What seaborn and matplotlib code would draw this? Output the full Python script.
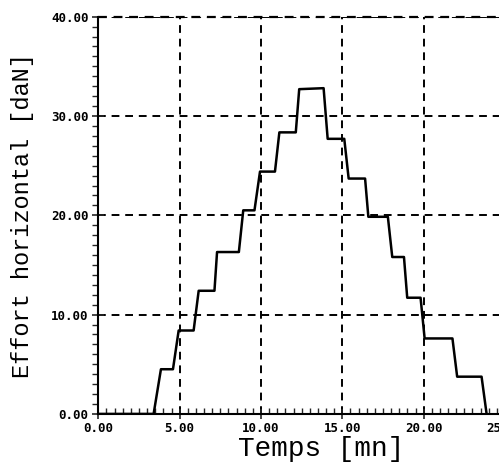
import matplotlib
matplotlib.use("Agg")
import matplotlib.pyplot as plt
import seaborn as sns
import pandas as pd
from matplotlib.ticker import MultipleLocator, FormatStrFormatter

# Data (time in minutes, horizontal force in daN)
temps = [0, 3.4, 3.85, 4.59, 4.94, 5.86, 6.17, 7.14, 7.3, 8.64, 8.91, 9.6, 9.94,
         10.86, 11.13, 12.14, 12.35, 13.85, 14.1, 15.12, 15.39, 16.4, 16.6, 17.8,
         18.07, 18.79, 18.99, 19.81, 20.06, 21.77, 22.06, 23.56, 23.87]
effort = [0, 0, 4.5, 4.5, 8.4, 8.4, 12.4, 12.4, 16.3, 16.3, 20.5, 20.5, 24.4,
          24.4, 28.35, 28.35, 32.7, 32.8, 27.7, 27.7, 23.7, 23.7, 19.85, 19.85,
          15.8, 15.8, 11.7, 11.7, 7.6, 7.6, 3.75, 3.75, 0]

xlabel = "Temps [mn]"
ylabel = "Effort horizontal [daN]"

df = pd.DataFrame({"t": temps, "f": effort})

sns.set_theme(style="white")
fig = plt.figure(figsize=(4.99, 4.63), dpi=100)
ax = fig.add_axes([0.197, 0.106, 1.012 - 0.197, 0.858])

sns.lineplot(data=df, x="t", y="f", sort=False, color="black", linewidth=1.8,
             ax=ax, zorder=3)

ax.set_xlim(0, 25)
ax.set_ylim(0, 40)
ax.xaxis.set_major_locator(MultipleLocator(5))
ax.xaxis.set_minor_locator(MultipleLocator(0.5))
ax.yaxis.set_major_locator(MultipleLocator(10))
ax.yaxis.set_minor_locator(MultipleLocator(1))
ax.xaxis.set_major_formatter(FormatStrFormatter("%.2f"))
ax.yaxis.set_major_formatter(FormatStrFormatter("%.2f"))

for s in ["top", "right"]:
    ax.spines[s].set_visible(False)
for s in ["left", "bottom"]:
    ax.spines[s].set_color("black")
    ax.spines[s].set_linewidth(1.5)

dash = (0, (4, 3))
ax.grid(True, which="major", color="black", linestyle=dash, linewidth=1.4)
ax.axhline(40, color="black", linestyle=dash, linewidth=1.6, clip_on=False)

ax.tick_params(axis="x", which="major", direction="inout", length=7, width=1.2,
               pad=2, bottom=True)
ax.tick_params(axis="x", which="minor", direction="in", length=4, width=1.0,
               bottom=True)
ax.tick_params(axis="y", which="major", direction="inout", length=8, width=1.2,
               pad=3, left=True)
ax.tick_params(axis="y", which="minor", direction="out", length=4, width=1.0,
               left=True)

for lab in ax.get_xticklabels() + ax.get_yticklabels():
    lab.set_fontfamily("DejaVu Sans Mono")
    lab.set_fontweight("bold")
    lab.set_fontsize(9)
    lab.set_color("black")

ax.set_xlabel(xlabel, fontfamily="Liberation Mono", fontsize=20, color="black",
              va="center")
ax.xaxis.set_label_coords(0.547, -0.088)
ax.set_ylabel(ylabel, fontfamily="Liberation Mono", fontsize=17, color="black",
              va="center")
ax.yaxis.set_label_coords(-0.187, 0.50)

fig.savefig("out.png", dpi=100)
